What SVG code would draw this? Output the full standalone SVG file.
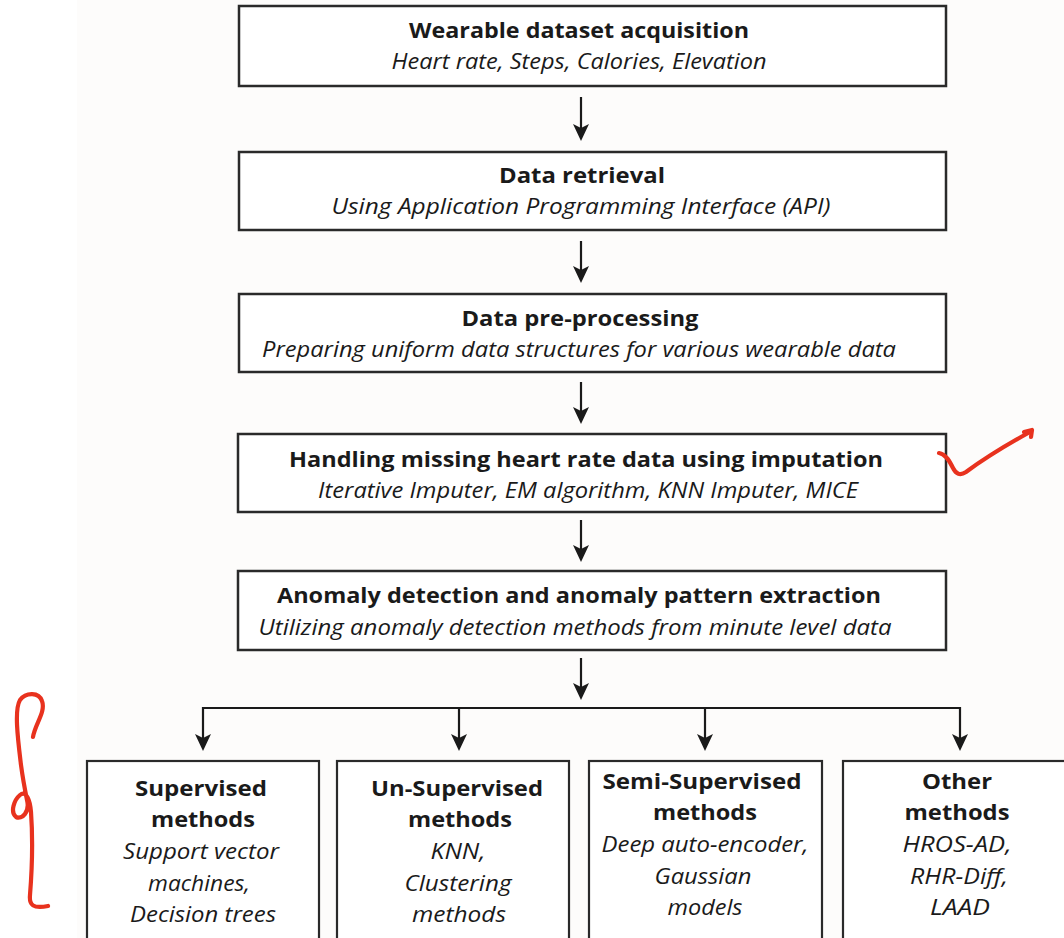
<svg xmlns="http://www.w3.org/2000/svg" width="1064" height="938" viewBox="0 0 1064 938">
<style>
.box{fill:#ffffff;stroke:#2a2a2a;stroke-width:2.5}
.sbox{fill:#ffffff;stroke:#2a2a2a;stroke-width:2.2}
.t{font-family:"Open Sans","Noto Sans",sans-serif;font-weight:bold;font-size:22px;fill:#1a1a1a;text-anchor:middle}
.s{font-family:"Open Sans","Noto Sans",sans-serif;font-style:italic;font-size:21px;fill:#1a1a1a;text-anchor:middle}
.c{fill:none;stroke:#1a1a1a;stroke-width:2.2}
.ah{fill:#1a1a1a}
.red{fill:none;stroke:#e8321e;stroke-width:4.2;stroke-linecap:round;stroke-linejoin:round}
</style>
<rect x="0" y="0" width="1064" height="938" fill="#ffffff"/>
<rect x="77" y="0" width="987" height="938" fill="#fdfcfb"/>

<g id="node1">
<rect class="box" x="239" y="6" width="707" height="80"/>
<text class="t" x="579" y="38" textLength="340" lengthAdjust="spacingAndGlyphs">Wearable dataset acquisition</text>
<text class="s" x="579" y="69" textLength="375" lengthAdjust="spacingAndGlyphs">Heart rate, Steps, Calories, Elevation</text>
</g>
<g id="node2">
<rect class="box" x="239" y="152" width="707" height="78"/>
<text class="t" x="582" y="183" textLength="166" lengthAdjust="spacingAndGlyphs">Data retrieval</text>
<text class="s" x="581" y="214" textLength="499" lengthAdjust="spacingAndGlyphs">Using Application Programming Interface (API)</text>
</g>
<g id="node3">
<rect class="box" x="239" y="294" width="707" height="78"/>
<text class="t" x="580" y="326" textLength="237" lengthAdjust="spacingAndGlyphs">Data pre-processing</text>
<text class="s" x="579" y="357" textLength="634" lengthAdjust="spacingAndGlyphs">Preparing uniform data structures for various wearable data</text>
</g>
<g id="node4">
<rect class="box" x="238" y="434" width="708" height="78"/>
<text class="t" x="586" y="467" textLength="594" lengthAdjust="spacingAndGlyphs">Handling missing heart rate data using imputation</text>
<text class="s" x="588" y="498" textLength="540" lengthAdjust="spacingAndGlyphs">Iterative Imputer, EM algorithm, KNN Imputer, MICE</text>
</g>
<g id="node5">
<rect class="box" x="238" y="571" width="708" height="79"/>
<text class="t" x="579" y="603" textLength="604" lengthAdjust="spacingAndGlyphs">Anomaly detection and anomaly pattern extraction</text>
<text class="s" x="575" y="635" textLength="633" lengthAdjust="spacingAndGlyphs">Utilizing anomaly detection methods from minute level data</text>
</g>

<g id="connectors">
<line class="c" x1="581" y1="97" x2="581" y2="130"/>
<path class="ah" d="M573,124 L581,128 L589,124 L581,141 Z"/>
<line class="c" x1="581" y1="241" x2="581" y2="272"/>
<path class="ah" d="M573,266 L581,270 L589,266 L581,283 Z"/>
<line class="c" x1="581" y1="382" x2="581" y2="413"/>
<path class="ah" d="M573,407 L581,411 L589,407 L581,424 Z"/>
<line class="c" x1="581" y1="520" x2="581" y2="551"/>
<path class="ah" d="M573,545 L581,549 L589,545 L581,562 Z"/>
<line class="c" x1="581" y1="658" x2="581" y2="689"/>
<path class="ah" d="M573,683 L581,687 L589,683 L581,700 Z"/>
<polyline class="c" points="203,742 203,708 960,708 960,742"/>
<line class="c" x1="459" y1="708" x2="459" y2="742"/>
<line class="c" x1="705" y1="708" x2="705" y2="742"/>
<path class="ah" d="M195,734 L203,738 L211,734 L203,751 Z"/>
<path class="ah" d="M451,734 L459,738 L467,734 L459,751 Z"/>
<path class="ah" d="M697,734 L705,738 L713,734 L705,751 Z"/>
<path class="ah" d="M952,734 L960,738 L968,734 L960,751 Z"/>
</g>

<g id="node6">
<rect class="sbox" x="87" y="761" width="232" height="190"/>
<text class="t" x="201" y="796" textLength="132" lengthAdjust="spacingAndGlyphs">Supervised</text>
<text class="t" x="203" y="827" textLength="104" lengthAdjust="spacingAndGlyphs">methods</text>
<text class="s" x="201" y="859" textLength="156" lengthAdjust="spacingAndGlyphs">Support vector</text>
<text class="s" x="199" y="891" textLength="102" lengthAdjust="spacingAndGlyphs">machines,</text>
<text class="s" x="203" y="922" textLength="146" lengthAdjust="spacingAndGlyphs">Decision trees</text>
</g>
<g id="node7">
<rect class="sbox" x="337" y="761" width="232" height="190"/>
<text class="t" x="457" y="796" textLength="172" lengthAdjust="spacingAndGlyphs">Un-Supervised</text>
<text class="t" x="460" y="827" textLength="104" lengthAdjust="spacingAndGlyphs">methods</text>
<text class="s" x="458" y="859" textLength="55" lengthAdjust="spacingAndGlyphs">KNN,</text>
<text class="s" x="458" y="891" textLength="107" lengthAdjust="spacingAndGlyphs">Clustering</text>
<text class="s" x="459" y="922" textLength="94" lengthAdjust="spacingAndGlyphs">methods</text>
</g>
<g id="node8">
<rect class="sbox" x="589" y="761" width="233" height="190"/>
<text class="t" x="702" y="789" textLength="199" lengthAdjust="spacingAndGlyphs">Semi-Supervised</text>
<text class="t" x="705" y="820" textLength="104" lengthAdjust="spacingAndGlyphs">methods</text>
<text class="s" x="705" y="852" textLength="207" lengthAdjust="spacingAndGlyphs">Deep auto-encoder,</text>
<text class="s" x="703" y="884" textLength="97" lengthAdjust="spacingAndGlyphs">Gaussian</text>
<text class="s" x="705" y="915" textLength="75" lengthAdjust="spacingAndGlyphs">models</text>
</g>
<g id="node9">
<rect class="sbox" x="843" y="761" width="240" height="190"/>
<text class="t" x="957" y="789" textLength="70" lengthAdjust="spacingAndGlyphs">Other</text>
<text class="t" x="957" y="820" textLength="105" lengthAdjust="spacingAndGlyphs">methods</text>
<text class="s" x="957" y="852" textLength="109" lengthAdjust="spacingAndGlyphs">HROS-AD,</text>
<text class="s" x="959" y="884" textLength="98" lengthAdjust="spacingAndGlyphs">RHR-Diff,</text>
<text class="s" x="960" y="915" textLength="60" lengthAdjust="spacingAndGlyphs">LAAD</text>
</g>

<g id="annotations">
<path class="red" d="M939,453 C946,454 950,462 953,468 C956,474 960,476 966,472 C985,458 1008,444 1030,432"/>
<path class="red" d="M1024,432 L1032,430 L1031,437"/>
<path class="red" d="M33,737 C35,724 46,712 42,701 C39,692 26,692 20,700 C14,710 18,740 21,765 C23,780 25,790 27,800 C30,812 22,820 16,817 C10,812 14,800 20,795 C26,790 30,800 31,812 C33,840 32,870 30,895 C29,905 33,909 48,906"/>
</g>
</svg>
